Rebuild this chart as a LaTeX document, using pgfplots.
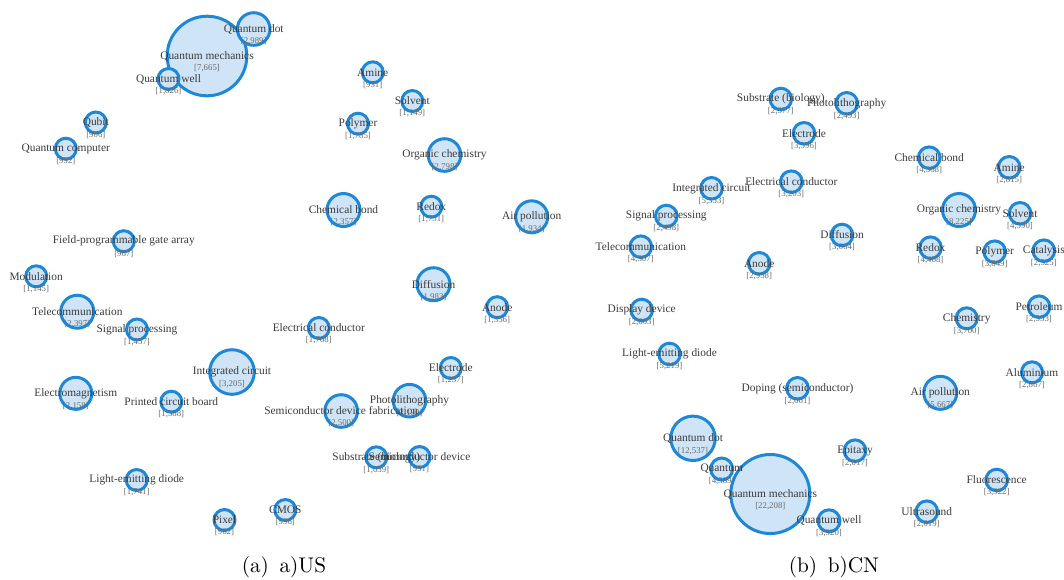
\documentclass[border=0pt]{standalone}
\usepackage{pgfplots}
\usepackage{pgfplotstable}
\pgfplotsset{compat=1.18}
\usepackage{fontspec}
\newfontfamily\labfont{Liberation Serif}
\definecolor{ring}{RGB}{30,136,215}
\definecolor{bub}{RGB}{207,229,247}
\definecolor{labtxt}{RGB}{58,58,58}
\definecolor{valtxt}{RGB}{105,105,105}

% x;y in pixels of the original figure, r = bubble radius in pixels
\pgfplotstableread[col sep=semicolon]{
x;y;r;count;label
207;56;41.3;7665;Quantum mechanics
253.7;29;17.8;2989;Quantum dot
168.5;79;12;1826;Quantum well
95.8;122.5;12;906;Qubit
65.8;148.7;12;992;Quantum computer
372.7;72.3;12;931;Amine
412.3;101;12;1149;Solvent
358;123.7;12;1785;Polymer
444.5;155;17.8;2798;Organic chemistry
343.5;210;18;2357;Chemical bond
431.3;206.7;12;1751;Redox
531.7;216.8;17.5;1934;Air pollution
123.8;241.2;12;967;Field-programmable gate array
36.2;276.3;12;1145;Modulation
77.3;311.7;18;2397;Telecommunication
137;329.5;12;1457;Signal processing
433.5;284.2;18;1983;Diffusion
497.2;307.2;12;1356;Anode
318.8;328;12;1768;Electrical conductor
232;372;23.8;3205;Integrated circuit
75.8;393.3;17.5;2158;Electromagnetism
171.3;401.7;12;1588;Printed circuit board
450.8;368;12;1237;Electrode
409.5;400.7;17.8;2190;Photolithography
341.2;411;17.8;2500;Semiconductor device fabrication
376.3;457.3;12;1039;Substrate (biology)
419.5;457;12;991;Semiconductor device
136.7;480;12;1741;Light-emitting diode
224.5;520;12;962;Pixel
285.3;510;12;996;CMOS
}\usdata

\pgfplotstableread[col sep=semicolon]{
x;y;r;count;label
780.8;99;12.3;2377;Substrate (biology)
846.7;103.3;12.3;2493;Photolithography
804;133.3;12.3;3596;Electrode
711.5;188.3;12.3;5353;Integrated circuit
791.3;181.7;12.3;3203;Electrical conductor
666.3;216;12.3;2498;Signal processing
640.8;246.7;12.3;4307;Telecommunication
759.2;263.3;12.3;2958;Anode
842;235;12.3;3664;Diffusion
929.2;157.7;12.3;4388;Chemical bond
1009.2;167.3;12.3;2815;Amine
959;210;18;8225;Organic chemistry
1020;213.3;12.3;4590;Solvent
930.5;247.7;12.3;4468;Redox
994.7;251.7;12.3;3849;Polymer
1043.8;250.7;12.3;2525;Catalysis
641.7;310;12.3;2603;Display device
669.5;354;12.3;5219;Light-emitting diode
797.5;388.3;12.3;2661;Doping (semiconductor)
966.7;318.3;12;3700;Chemistry
1039;306.7;12.3;2553;Petroleum
1032;372.3;12;2867;Aluminium
940.3;392.8;18;5667;Air pollution
693;438.3;23.7;12537;Quantum dot
721.7;469;12.5;4389;Quantum
770.3;494;41;22208;Quantum mechanics
829;520.8;12.5;3920;Quantum well
855;450.7;12.3;2017;Epitaxy
996.7;480;12.3;3322;Fluorescence
926.8;511.7;12.3;2019;Ultrasound
}\cndata

\pgfplotsset{
  bubbleaxis/.style={
    scale only axis, hide axis, clip=false,
    y dir=reverse, ymin=0, ymax=579,
    height=289.5pt, anchor=north west,
  },
  bubbles/.style={
    scatter, only marks, mark=*,
    point meta=\thisrow{r},
    scatter/use mapped color={draw=ring, fill=bub},
    mark options={line width=1.5pt},
    visualization depends on={0.5*\thisrow{r}-0.75 \as \rad},
    scatter/@pre marker code/.append style={/tikz/mark size=\rad pt},
  },
  names/.style={
    draw=none, mark=none,
    point meta=explicit symbolic,
    nodes near coords,
    nodes near coords style={anchor=center, inner sep=0pt,
      font=\labfont\fontsize{5.7}{6}\selectfont, text=labtxt},
  },
  counts/.style={
    draw=none, mark=none,
    point meta=\thisrow{count},
    nodes near coords={[\pgfmathprintnumber[assume math mode=true, 1000 sep={,}]{\pgfplotspointmeta}]},
    nodes near coords style={anchor=center, inner sep=0pt, yshift=-6.25pt,
      font=\labfont\fontsize{4.4}{5}\selectfont, text=valtxt},
  },
}

\begin{document}
\begin{tikzpicture}
\begin{axis}[bubbleaxis, at={(0,0)}, xmin=0, xmax=545, width=272.5pt]
\addplot[bubbles] table[x=x, y=y] {\usdata};
\addplot[names] table[x=x, y=y, meta=label] {\usdata};
\addplot[counts] table[x=x, y=y] {\usdata};
\node[font=\fontsize{10.6}{12}\selectfont, inner sep=0pt] at (axis cs:284,567) {(a)\hspace{0.5em}a)US};
\end{axis}
\begin{axis}[bubbleaxis, at={(272.5pt,0)}, xmin=545, xmax=1064, width=259.5pt]
\addplot[bubbles] table[x=x, y=y] {\cndata};
\addplot[names] table[x=x, y=y, meta=label] {\cndata};
\addplot[counts] table[x=x, y=y] {\cndata};
\node[font=\fontsize{10.6}{12}\selectfont, inner sep=0pt] at (axis cs:834,567) {(b)\hspace{0.5em}b)CN};
\end{axis}
\pgfresetboundingbox
\useasboundingbox (0,0) rectangle (532pt,-289.5pt);
\end{tikzpicture}
\end{document}
